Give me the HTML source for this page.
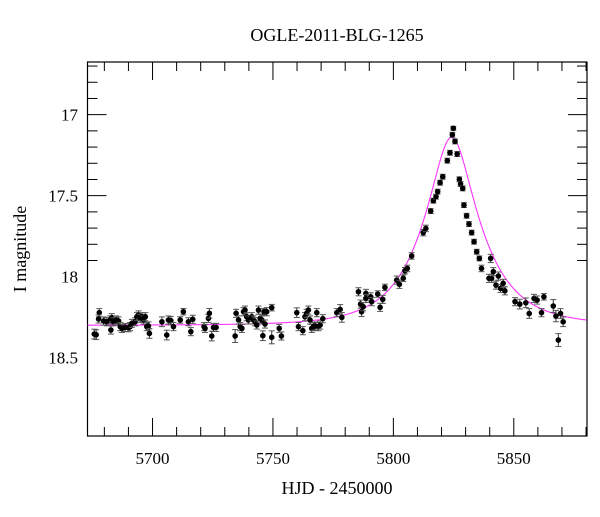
<!DOCTYPE html>
<html><head><meta charset="utf-8"><style>
html,body{margin:0;padding:0;background:#fff;}
svg text{font-family:"Liberation Serif","DejaVu Serif",serif;fill:#000;}
</style></head><body>
<svg id="chart" width="600" height="512" viewBox="0 0 600 512" xmlns="http://www.w3.org/2000/svg">
<text x="337" y="41" font-size="18" text-anchor="middle">OGLE-2011-BLG-1265</text>
<text x="337" y="494" font-size="18" text-anchor="middle">HJD - 2450000</text>
<text x="0" y="0" font-size="18" text-anchor="middle" transform="translate(26,249) rotate(-90)">I magnitude</text>
<g id="axes"></g>
<g id="model"></g>
<g id="points"></g>
</svg>
<script>
const xTicks=[5700,5750,5800,5850];
const yTicks=[17,17.5,18,18.5];
const days=[5675.8,5676.6,5677.9,5677.6,5679.7,5681.0,5682.4,5683.1,5682.7,5683.8,5684.9,5685.9,5686.6,5687.3,5688.6,5690.0,5690.7,5691.4,5692.8,5693.5,5694.2,5694.9,5695.6,5696.3,5697.0,5697.6,5698.3,5698.7,5703.9,5705.9,5706.6,5707.6,5708.7,5711.5,5712.8,5714.9,5715.9,5716.7,5721.4,5721.8,5723.2,5723.6,5724.6,5725.3,5726.4,5734.3,5734.7,5735.7,5736.4,5737.1,5737.8,5738.4,5739.1,5739.8,5741.2,5741.9,5742.6,5743.3,5744.0,5744.7,5745.4,5745.8,5746.3,5746.7,5747.4,5749.5,5749.5,5752.6,5753.5,5759.9,5760.6,5762.4,5763.3,5764.0,5764.7,5765.4,5766.1,5766.8,5767.5,5768.2,5768.9,5769.6,5770.7,5776.5,
5777.9,5778.6,5785.5,5786.4,5786.8,5787.5,5788.6,5788.6,5790.6,5791.0,5793.5,5794.5,5795.6,5796.5,5801.4,5802.5,5804.1,5804.8,5805.8,5807.6,5812.4,5813.5,5815.5,5816.6,5817.7,5818.4,5819.4,5820.5,5822.4,5823.5,5824.5,5824.9,5825.6,5826.5,5827.4,5827.9,5828.8,5829.3,5830.4,5831.4,5832.5,5833.5,5834.6,5835.7,5836.6,5839.7,5840.4,5840.8,5841.5,5842.6,5843.6,5844.5,5845.6,5846.3,5850.5,5852.5,5855.0,5856.4,5858.4,5859.7,5861.5,5862.5,5866.4,5867.5,5868.5,5869.4,5870.5];
const mags=[18.354,18.358,18.222,18.261,18.273,18.278,18.267,18.253,18.329,18.278,18.267,18.273,18.308,18.319,18.313,18.315,18.308,18.288,18.278,18.247,18.236,18.257,18.247,18.267,18.247,18.308,18.304,18.350,18.278,18.360,18.267,18.271,18.308,18.267,18.216,18.278,18.339,18.263,18.308,18.319,18.257,18.226,18.366,18.313,18.313,18.366,18.226,18.267,18.308,18.319,18.216,18.206,18.247,18.267,18.247,18.267,18.278,18.298,18.206,18.257,18.267,18.364,18.216,18.292,18.216,18.191,18.374,18.319,18.366,18.222,18.308,18.333,18.247,18.226,18.206,18.267,18.319,18.308,18.304,18.222,18.308,18.298,18.259,18.222,
18.202,18.251,18.093,18.169,18.216,18.185,18.103,18.134,18.124,18.154,18.107,18.189,18.140,18.066,18.021,18.047,18.010,17.963,17.949,17.872,17.728,17.702,17.595,17.531,17.506,17.475,17.420,17.383,17.284,17.235,17.124,17.084,17.165,17.243,17.399,17.428,17.455,17.558,17.624,17.675,17.728,17.784,17.846,17.887,17.949,18.010,17.887,18.010,17.969,18.052,17.996,18.072,18.041,18.087,18.154,18.169,18.161,18.227,18.134,18.144,18.222,18.124,18.181,18.243,18.391,18.227,18.278];
const errs=[0.03,0.03,0.025,0.025,0.025,0.025,0.025,0.025,0.025,0.025,0.025,0.025,0.025,0.025,0.025,0.025,0.025,0.025,0.025,0.025,0.025,0.025,0.025,0.025,0.025,0.025,0.025,0.03,0.03,0.03,0.025,0.025,0.025,0.02,0.02,0.025,0.025,0.025,0.025,0.025,0.025,0.03,0.03,0.025,0.025,0.04,0.025,0.025,0.025,0.025,0.025,0.025,0.025,0.025,0.025,0.025,0.025,0.025,0.025,0.025,0.025,0.03,0.02,0.025,0.025,0.02,0.04,0.025,0.025,0.03,0.025,0.025,0.025,0.025,0.025,0.025,0.025,0.025,0.025,0.025,0.025,0.025,0.025,0.025,
0.03,0.03,0.025,0.025,0.03,0.025,0.025,0.025,0.025,0.025,0.02,0.025,0.025,0.02,0.025,0.025,0.02,0.02,0.02,0.02,0.02,0.02,0.015,0.015,0.015,0.015,0.015,0.015,0.015,0.015,0.015,0.012,0.015,0.015,0.015,0.015,0.015,0.015,0.015,0.015,0.015,0.015,0.015,0.015,0.02,0.025,0.025,0.025,0.025,0.025,0.025,0.025,0.025,0.025,0.025,0.03,0.03,0.03,0.025,0.025,0.025,0.02,0.04,0.035,0.04,0.03,0.03];
const t0=5824.2, u0=0.36, tE=22.6, I0=18.30;
const L=87.5,R=587,T=62,B=436, xMin=5673, xMax=5880.4, yMin=16.675, yMax=18.983;
const NS="http://www.w3.org/2000/svg";
const X=v=>L+(v-xMin)/(xMax-xMin)*(R-L);
const Y=v=>T+(v-yMin)/(yMax-yMin)*(B-T);
function mk(tag,attrs,parent){const e=document.createElementNS(NS,tag);for(const k in attrs)e.setAttribute(k,attrs[k]);parent.appendChild(e);return e;}
const ax=document.getElementById('axes');
const frame=mk('rect',{x:L,y:T,width:R-L,height:B-T,fill:'none',stroke:'#000','stroke-width':1.2},ax);


for(let d=5680;d<=5880;d+=10){const maj=d%50===0;const len=maj?18:9;const x=X(d);
 const t1=mk('line',{x1:x,x2:x,y1:B,y2:B-len,stroke:'#000','stroke-width':1},ax);
 
 
 const t2=mk('line',{x1:x,x2:x,y1:T,y2:T+len,stroke:'#000','stroke-width':1},ax);
 
 }
xTicks.forEach(v=>{const t=mk('text',{x:X(v),y:464,'font-size':17,'text-anchor':'middle'},ax);t.textContent=v;
 
 });
for(let i=17;i<=29;i++){const m=i/10*1;const v=16.7+ (i-17)*0.1; const maj=Math.abs(v*2-Math.round(v*2))<1e-6;const len=maj?19:10;const y=Y(v);
 if(y<T||y>B)continue;
 const t1=mk('line',{x1:L,x2:L+len,y1:y,y2:y,stroke:'#000','stroke-width':1},ax);
 
 
 const t2=mk('line',{x1:R,x2:R-len,y1:y,y2:y,stroke:'#000','stroke-width':1},ax);
 
 }
yTicks.forEach(v=>{const t=mk('text',{x:78,y:Y(v)+6,'font-size':17,'text-anchor':'end'},ax);t.textContent=v;
 
 });
// model
let dstr='';
for(let t=xMin;t<=xMax;t+=0.25){const u=Math.sqrt(u0*u0+((t-t0)/tE)**2);const A=(u*u+2)/(u*Math.sqrt(u*u+4));const m=I0-2.5*Math.log10(A);dstr+=(dstr?'L':'M')+X(t).toFixed(2)+','+Y(m).toFixed(2);}
const mp=mk('path',{d:dstr,fill:'none',stroke:'#ff33ff','stroke-width':1.1},document.getElementById('model'));


const pg=document.getElementById('points');
days.forEach((d,i)=>{const x=X(d),y=Y(mags[i]),y1=Y(mags[i]-errs[i]),y2=Y(mags[i]+errs[i]);
 const g=mk('g',{},pg);
 
 
 mk('line',{x1:x,x2:x,y1:y1,y2:y2,stroke:'#333','stroke-width':1},g);
 mk('line',{x1:x-3,x2:x+3,y1:y1,y2:y1,stroke:'#555','stroke-width':1},g);
 mk('line',{x1:x-3,x2:x+3,y1:y2,y2:y2,stroke:'#555','stroke-width':1},g);
 mk('circle',{cx:x,cy:y,r:2.8,fill:'#000'},g);
});
</script>
</body></html>
